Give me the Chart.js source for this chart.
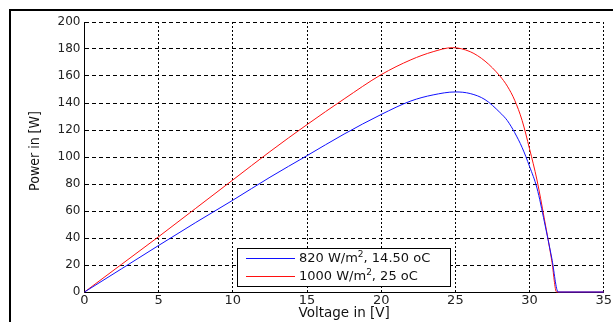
<!DOCTYPE html>
<html>
<head>
<meta charset="utf-8">
<script src="https://cdn.jsdelivr.net/npm/chart.js@4/dist/chart.umd.min.js"></script>
<style>
  html, body { margin: 0; padding: 0; background: #fff; overflow: hidden; }
  #wrap { position: relative; width: 613px; height: 322px; }
  #frame { position: absolute; left: 9px; top: 9px; width: 700px; height: 400px;
           border: 2px solid #000; pointer-events: none; }
  #legend { position: absolute; left: 237px; top: 248px; width: 215px; height: 40px;
            font-family: "DejaVu Sans", sans-serif; font-size: 13px; color: #111; }
  .lbl { position: absolute; left: 62px; height: 18px; line-height: 18px; white-space: nowrap; }
  sup { font-size: 9px; line-height: 0; vertical-align: 5px; }
</style>
</head>
<body>
<div id="wrap">
  <canvas id="c" width="613" height="322"></canvas>
  <div id="legend"></div>
  <div id="frame"></div>
</div>
<script>
// ---- data ----
const seriesLabels = ["820 W/m², 14.50 oC", "1000 W/m², 25 oC"];
const seriesColors = ["#1010ff", "#ff1010"];

const voltage820 = [0, 2.5, 5, 7.5, 10, 12.5, 15, 17.5, 20, 22, 23.5, 25, 26, 27, 28, 28.5, 29, 29.5, 30, 30.5, 31, 31.5, 31.93, 35];
const power820   = [0, 17.2, 34.5, 51.5, 68, 85, 101, 117, 131.5, 141.5, 146, 148.2, 147, 142.5, 133, 127, 118, 107, 93, 77, 52, 25, 0, 0];

const voltage1000 = [0, 2.5, 5, 7.5, 10, 12.5, 15, 17.5, 20, 22, 23.5, 24.8, 26, 27, 28, 28.5, 29, 29.5, 30, 30.5, 31, 31.5, 31.82, 35];
const power1000   = [0, 20.5, 41, 62, 83, 104, 124, 143, 161, 172, 178, 181, 178, 171, 160, 152.5, 142, 127, 106, 83, 54, 23, 0, 0];

const xTicks = [0, 5, 10, 15, 20, 25, 30, 35];
const yTicks = [0, 20, 40, 60, 80, 100, 120, 140, 160, 180, 200];
const xTitle = "Voltage in [V]";
const yTitle = "Power in [W]";

const toPts = (xs, ys) => xs.map((x, i) => ({ x: x, y: ys[i] }));

// y-axis title + legend box/line samples drawn on the canvas
const decoPlugin = {
  id: 'deco',
  afterDraw(chart) {
    const c = chart.ctx;
    c.save();
    c.font = '14px "DejaVu Sans Condensed", "DejaVu Sans", sans-serif';
    c.fillStyle = '#111';
    c.textAlign = 'center';
    c.textBaseline = 'middle';
    c.translate(35, 151);
    c.rotate(-Math.PI / 2);
    c.fillText(yTitle, 0, 0);
    c.restore();

    // legend box
    c.save();
    c.fillStyle = '#fff';
    c.fillRect(237, 248, 214, 39);
    c.strokeStyle = '#000';
    c.lineWidth = 1;
    c.strokeRect(237.5, 248.5, 213, 38);
    seriesColors.forEach((col, i) => {
      c.strokeStyle = col;
      c.beginPath();
      const y = 258.5 + i * 18;
      c.moveTo(246, y);
      c.lineTo(295, y);
      c.stroke();
    });
    c.restore();
  }
};

const ctx = document.getElementById('c').getContext('2d');
const chart = new Chart(ctx, {
  type: 'line',
  data: {
    datasets: [
      { label: seriesLabels[0], data: toPts(voltage820, power820), borderColor: seriesColors[0],
        borderWidth: 1, pointRadius: 0, cubicInterpolationMode: 'monotone', fill: false, clip: false },
      { label: seriesLabels[1], data: toPts(voltage1000, power1000), borderColor: seriesColors[1],
        borderWidth: 1, pointRadius: 0, cubicInterpolationMode: 'monotone', fill: false, clip: false }
    ]
  },
  options: {
    responsive: false,
    animation: false,
    layout: { padding: { left: 26, right: 9, top: 22, bottom: 0 } },
    plugins: { legend: { display: false }, tooltip: { enabled: false } },
    scales: {
      x: {
        type: 'linear', min: 0, max: 35,
        afterBuildTicks: s => { s.ticks = xTicks.map(v => ({ value: v })); },
        ticks: { color: '#222', font: { family: 'DejaVu Sans', size: 13 }, padding: 1, maxRotation: 0 },
        grid: { color: '#000', lineWidth: 1, drawTicks: false },
        border: { display: true, color: '#000', width: 1, dash: [2, 2] },
        title: { display: true, text: xTitle, color: '#111',
                 font: { family: 'DejaVu Sans', size: 13.5 }, padding: 0 },
        afterFit: s => { s.height = 30; }
      },
      y: {
        type: 'linear', min: 0, max: 200,
        afterBuildTicks: s => { s.ticks = yTicks.map(v => ({ value: v })); },
        ticks: { color: '#222', font: { family: 'DejaVu Sans', size: 12 }, padding: 4 },
        grid: { color: '#000', lineWidth: 1, drawTicks: false },
        border: { display: true, color: '#000', width: 1, dash: [4, 3] },
        title: { display: false },
        afterFit: s => { s.width = 58.5; }
      }
    }
  },
  plugins: [decoPlugin]
});

// HTML legend text built from the series arrays
const leg = document.getElementById('legend');
seriesLabels.forEach((lab, i) => {
  const tx = document.createElement('div');
  tx.className = 'lbl';
  tx.style.top = (1 + i * 18) + 'px';
  const parts = lab.split('²');
  tx.appendChild(document.createTextNode(parts[0]));
  if (parts.length > 1) {
    const sp = document.createElement('sup'); sp.textContent = '2'; tx.appendChild(sp);
    tx.appendChild(document.createTextNode(parts[1]));
  }
  leg.appendChild(tx);
});
</script>
</body>
</html>
